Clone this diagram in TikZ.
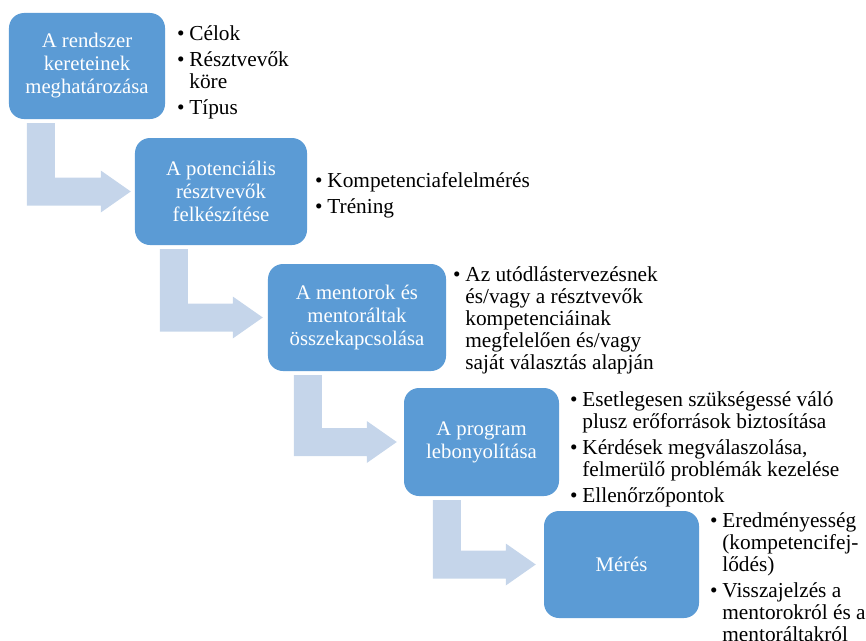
\documentclass[tikz,border=0pt]{standalone}
\usepackage{fontspec}
\setmainfont{Liberation Serif}
\usetikzlibrary{calc}

\definecolor{stageblue}{HTML}{5B9BD5}
\definecolor{connblue}{HTML}{C5D5EA}

\tikzset{
	stage/.style={fill=stageblue, rounded corners=0.45cm, text=white, align=center, inner sep=0pt, font=\fontsize{17.7}{19.6}\selectfont},
	notes/.style={anchor=base west, inner sep=0pt, font=\fontsize{18.2}{18.8}\selectfont},
	conn/.style={fill=connblue}
}

\begin{document}
\begin{tikzpicture}[x=0.03cm, y=-0.03cm]
			\useasboundingbox (0, 0) rectangle (866, 640);
			
			\node[stage, minimum width=4.68cm, minimum height=3.18cm] (rendszer) at (87, 66) {A rendszer\\kereteinek\\meghatározása};
			\node[stage, minimum width=5.16cm, minimum height=3.21cm] (felkeszites) at (221, 191.5) {A potenciális\\résztvevők\\felkészítése};
			\node[stage, minimum width=5.34cm, minimum height=3.21cm] (parositas) at (357, 317.5) {A mentorok és\\mentoráltak\\összekapcsolása};
			\node[stage, minimum width=4.65cm, minimum height=3.24cm] (program) at (481.5, 442) {A program\\lebonyolítása};
			\node[stage, minimum width=4.65cm, minimum height=3.21cm] (meres) at (621.5, 564.5) {Mérés};
			
			\foreach \a/\b/\d/\g in {rendszer/felkeszites/18/4, felkeszites/parositas/25/5, parositas/program/26/7, program/meres/29/8} {
				\path (\a.south west) ++(\d, 4) coordinate (top);
				\path (\b.west) ++(-\g, 0) coordinate (tip);
				\fill[conn] (top) -- ++(28, 0) -- ($(top |- tip)+(28, -14)$) -- ($(tip)+(-30, -14)$) -- ($(tip)+(-30, -21)$) -- (tip)
					-- ($(tip)+(-30, 21)$) -- ($(tip)+(-30, 14)$) -- ($(top |- tip)+(0, 14)$) -- cycle;
			}
			
			\node[notes] (rendszerlist) at (177, 40) {\begin{tabular}[t]{@{}l@{\hspace{4pt}}l@{}}
				• & Célok\\[3.4pt]
				• & Résztvevők\\
				  & köre\\[3.4pt]
				• & Típus
			\end{tabular}};
			\node[notes] (felkeszitlist) at (315, 187) {\begin{tabular}[t]{@{}l@{\hspace{4pt}}l@{}}
				• & Kompetenciafelelmérés\\[3.4pt]
				• & Tréning
			\end{tabular}};
			\node[notes] (parositlist) at (453, 281) {\begin{tabular}[t]{@{}l@{\hspace{4pt}}l@{}}
				• & Az utódlástervezésnek\\
				  & és/vagy a résztvevők\\
				  & kompetenciáinak\\
				  & megfelelően és/vagy\\
				  & saját választás alapján
			\end{tabular}};
			\node[notes] (programlist) at (570, 406) {\begin{tabular}[t]{@{}l@{\hspace{4pt}}l@{}}
				• & Esetlegesen szükségessé váló\\
				  & plusz erőforrások biztosítása\\[3.4pt]
				• & Kérdések megválaszolása,\\
				  & felmerülő problémák kezelése\\[3.4pt]
				• & Ellenőrzőpontok
			\end{tabular}};
			\node[notes] (mereslist) at (710, 527) {\begin{tabular}[t]{@{}l@{\hspace{4pt}}l@{}}
				• & Eredményesség\\
				  & (kompetencifej-\\
				  & lődés)\\[3.4pt]
				• & Visszajelzés a\\
				  & mentorokról és a\\
				  & mentoráltakról
			\end{tabular}};
			
		\end{tikzpicture}
\end{document}
